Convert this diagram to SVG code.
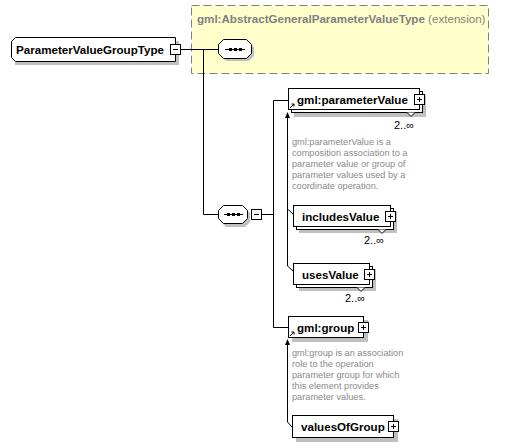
<svg xmlns="http://www.w3.org/2000/svg" width="532" height="448" viewBox="0 0 532 448">
<style>
.lbl{font-family:"Liberation Sans",Arial,sans-serif;font-size:11.6px;font-weight:bold;fill:#000}
.ann{font-family:"Liberation Sans",Arial,sans-serif;font-size:9.2px;fill:#8a8a8a}
.mult{font-family:"Liberation Sans",Arial,sans-serif;font-size:11px;fill:#000}
.box{fill:#fff;stroke:#000;stroke-width:1}
.shd{fill:#c0c0c0;stroke:none}
.ln{fill:none;stroke:#000;stroke-width:1}
.pm{fill:#fff;stroke:#000;stroke-width:1}
.ah{fill:#000;stroke:none}
</style>

<g id="extension">
<rect x="191.5" y="5.5" width="297" height="68" fill="#ffffcc" stroke="#808080" stroke-dasharray="8,4"/>
<text x="197" y="23" style="font-family:'Liberation Sans',Arial,sans-serif;font-size:11.6px;fill:#808080"><tspan font-weight="bold">gml:AbstractGeneralParameterValueType</tspan> (extension)</text>
</g>

<g id="connectors">
<path class="ln" d="M181,49.5 H218 M203.5,49.5 V214.5 H218 M262,214.5 H273.5 M273.5,100.5 V327.5 M273.5,100.5 H288 M273.5,327.5 H288"/>
<path class="ln" d="M287.5,117 V209 L293,214 M287.5,209 V266 L293,271"/>
<polygon class="ah" points="285,118 287.5,112 290,118"/>
<path class="ln" d="M287.5,344 V422 L292,427"/>
<polygon class="ah" points="285,345 287.5,339 290,345"/>
</g>

<g id="root">
<polygon class="shd" points="20,41 179,41 179,65 15,65 15,60"/>
<polygon class="box" points="15.5,37.5 175.5,37.5 175.5,61.5 15.5,61.5 11.5,57.5 11.5,41.5"/>
<text class="lbl" x="16" y="53.5">ParameterValueGroupType</text>
<rect class="pm" x="170.5" y="44.5" width="10" height="10"/>
<path class="ln" d="M173,49.5 H178"/>
</g>

<g id="seq1">
<polygon class="shd" points="226,42 249,42 254,47 254,56 249,61 226,61 221,56 221,47"/>
<polygon class="box" points="223.5,39.5 246.5,39.5 251.5,44.5 251.5,53.5 246.5,58.5 223.5,58.5 218.5,53.5 218.5,44.5"/>
<path class="ln" d="M225,49.5 H245"/>
<rect x="229" y="48" width="3" height="3" fill="#000"/><rect x="234" y="48" width="3" height="3" fill="#000"/><rect x="239" y="48" width="3" height="3" fill="#000"/>
</g>

<g id="seq2">
<polygon class="shd" points="226,208 245,208 250,213 250,222 245,227 226,227 221,222 221,213"/>
<polygon class="box" points="223.5,205.5 242.5,205.5 247.5,210.5 247.5,218.5 242.5,223.5 223.5,223.5 218.5,218.5 218.5,210.5"/>
<path class="ln" d="M224,214.5 H243"/>
<rect x="227" y="213" width="3" height="3" fill="#000"/><rect x="232" y="213" width="3" height="3" fill="#000"/><rect x="237" y="213" width="3" height="3" fill="#000"/>
<rect class="pm" x="251.5" y="209.5" width="10" height="10"/>
<path class="ln" d="M254,214.5 H259"/>
</g>

<g id="parameterValue">
<rect class="shd" x="294" y="95" width="132" height="22"/>
<rect class="box" x="291.5" y="91.5" width="131" height="21"/>
<polyline points="407,112.5 411,116.5 415,112.5" fill="#fff" stroke="#000"/>
<rect class="box" x="288.5" y="88.5" width="131" height="21"/>
<text class="lbl" x="297" y="103.5">gml:parameterValue</text>
<rect class="pm" x="414.5" y="94.5" width="10" height="10"/>
<path class="ln" d="M417,99.5 H422 M419.5,97 V102"/>
<path class="ln" d="M290,108 L294,104 M291.5,104 H294 V106.5"/>
<text class="mult" x="394" y="129">2..∞</text>
<text class="ann"><tspan x="292" y="145">gml:parameterValue is a</tspan><tspan x="292" y="156">composition association to a</tspan><tspan x="292" y="167">parameter value or group of</tspan><tspan x="292" y="178">parameter values used by a</tspan><tspan x="292" y="189">coordinate operation.</tspan></text>
</g>

<g id="includesValue">
<rect class="shd" x="299" y="211" width="98" height="22"/>
<rect class="box" x="296.5" y="208.5" width="97" height="21"/>
<polyline points="378,229.5 382,233.5 386,229.5" fill="#fff" stroke="#000"/>
<rect class="box" x="293.5" y="205.5" width="97" height="21"/>
<text class="lbl" x="302" y="220.5">includesValue</text>
<rect class="pm" x="385.5" y="211.5" width="10" height="10"/>
<path class="ln" d="M388,216.5 H393 M390.5,214 V219"/>
<text class="mult" x="364" y="244">2..∞</text>
</g>

<g id="usesValue">
<rect class="shd" x="299" y="269" width="77" height="22"/>
<rect class="box" x="296.5" y="266.5" width="76" height="21"/>
<polyline points="357,287.5 361,291.5 365,287.5" fill="#fff" stroke="#000"/>
<rect class="box" x="293.5" y="263.5" width="76" height="21"/>
<text class="lbl" x="302" y="278.5">usesValue</text>
<rect class="pm" x="364.5" y="269.5" width="10" height="10"/>
<path class="ln" d="M367,274.5 H372 M369.5,272 V277"/>
<text class="mult" x="345" y="302">2..∞</text>
</g>

<g id="group">
<rect class="shd" x="292" y="320" width="76" height="22"/>
<rect class="box" x="288.5" y="316.5" width="75" height="21"/>
<text class="lbl" x="297" y="331.5">gml:group</text>
<rect class="pm" x="358.5" y="322.5" width="10" height="10"/>
<path class="ln" d="M361,327.5 H366 M363.5,325 V330"/>
<path class="ln" d="M290,336 L294,332 M291.5,332 H294 V334.5"/>
<text class="ann"><tspan x="292" y="356">gml:group is an association</tspan><tspan x="292" y="367">role to the operation</tspan><tspan x="292" y="378">parameter group for which</tspan><tspan x="292" y="389">this element provides</tspan><tspan x="292" y="400">parameter values.</tspan></text>
</g>

<g id="valuesOfGroup">
<rect class="shd" x="296" y="419" width="102" height="23"/>
<rect class="box" x="292.5" y="415.5" width="101" height="22"/>
<text class="lbl" x="301" y="431">valuesOfGroup</text>
<rect class="pm" x="388.5" y="421.5" width="10" height="10"/>
<path class="ln" d="M391,426.5 H396 M393.5,424 V429"/>
</g>
</svg>
